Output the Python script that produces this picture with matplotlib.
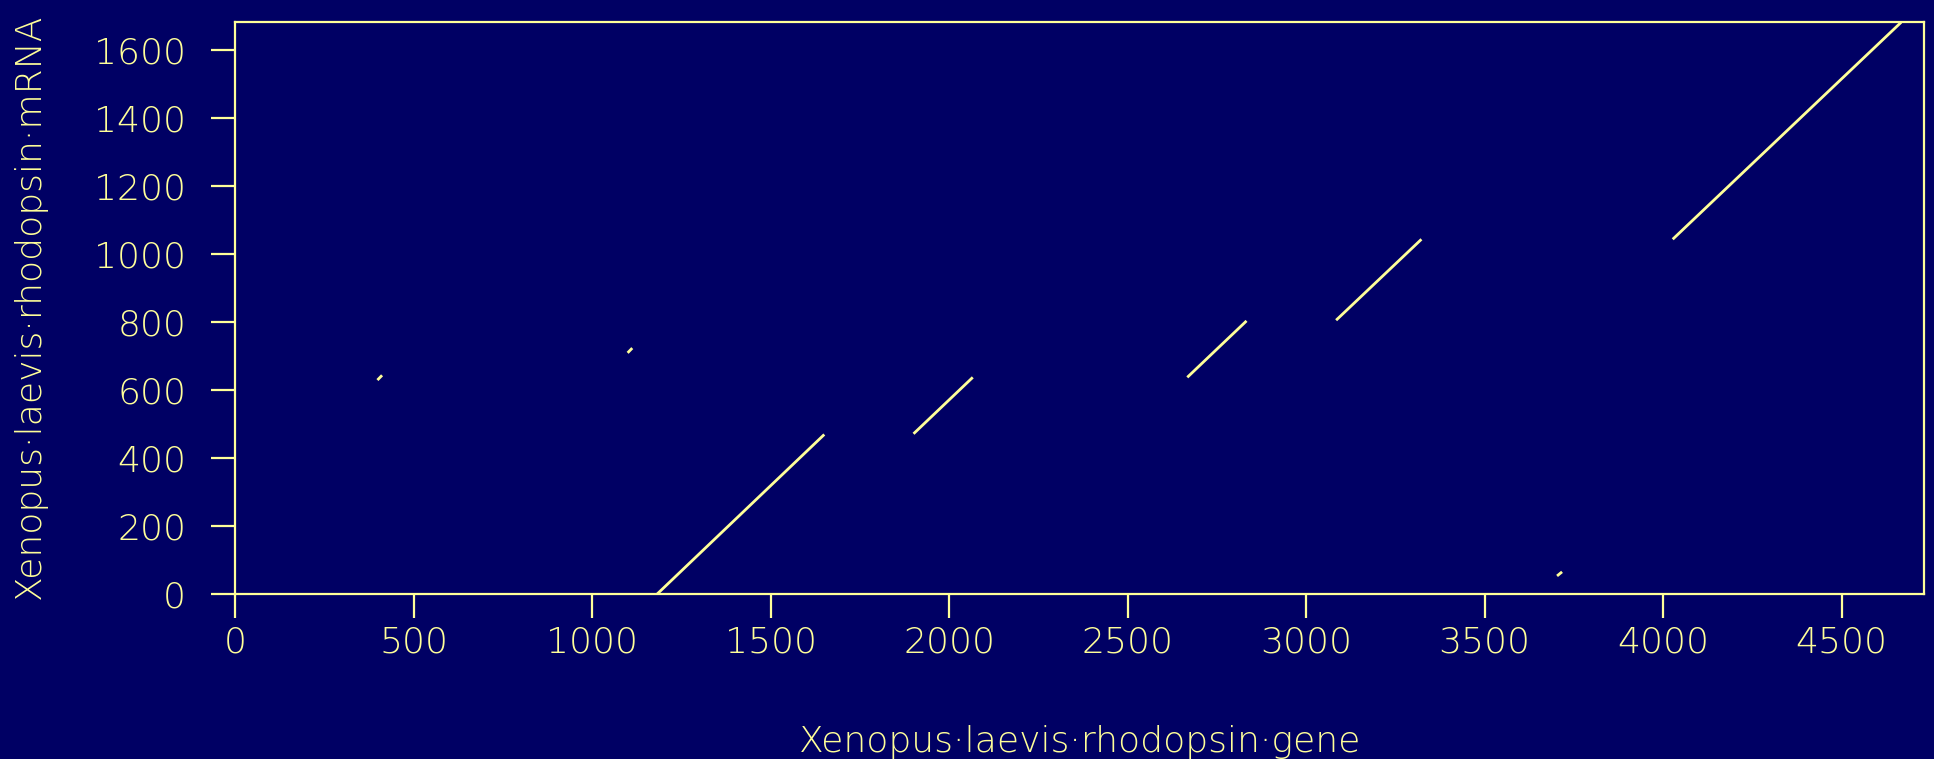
import matplotlib
matplotlib.use('Agg')
import matplotlib.pyplot as plt

# dot matcher hits: start/end of each diagonal run
seg_x0 = [1181, 1900, 2667, 3084, 4027, 398, 1099, 3703]
seg_x1 = [1650, 2066, 2833, 3323, 4667, 411, 1112, 3717]
seg_y0 = [0, 472, 638, 806, 1044, 630, 710, 54]
seg_y1 = [470, 638, 804, 1044, 1682, 644, 724, 66]

x_len = 4732
y_len = 1682
x_ticks = [0, 500, 1000, 1500, 2000, 2500, 3000, 3500, 4000, 4500]
y_ticks = [0, 200, 400, 600, 800, 1000, 1200, 1400, 1600]

bg = '#000064'
fg = '#ffff99'

plt.rcParams['font.family'] = ['DejaVu Sans']

fig = plt.figure(figsize=(19.34, 7.59), dpi=100, facecolor=bg)
ax = fig.add_axes([0.1217, 0.217, 0.995 - 0.1217, 0.9706 - 0.217])
ax.set_facecolor(bg)

for x0, x1, y0, y1 in zip(seg_x0, seg_x1, seg_y0, seg_y1):
    ax.plot([x0, x1], [y0, y1], color=fg, lw=2.0, solid_capstyle='butt')

ax.set_xlim(0, x_len)
ax.set_ylim(0, y_len)
ax.set_xticks(x_ticks)
ax.set_yticks(y_ticks)

for s in ax.spines.values():
    s.set_color(fg)
    s.set_linewidth(1.6)

ax.tick_params(axis='both', colors=fg, direction='out', length=17.5, width=1.6,
               labelsize=26)
ax.tick_params(axis='x', pad=5)
ax.tick_params(axis='y', pad=18)
for lab in ax.get_xticklabels() + ax.get_yticklabels():
    lab.set_fontweight('light')

fig.text(1080 / 1934, 1 - 752 / 759, 'Xenopus·laevis·rhodopsin·gene',
         color=fg, fontsize=26, fontweight='light', ha='center', va='baseline')
fig.text(30 / 1934, 1 - 306 / 759, 'Xenopus·laevis·rhodopsin·mRNA',
         color=fg, fontsize=26, fontweight='light', ha='center', va='center',
         rotation=90)

fig.savefig('out.png', dpi=100, facecolor=bg)
